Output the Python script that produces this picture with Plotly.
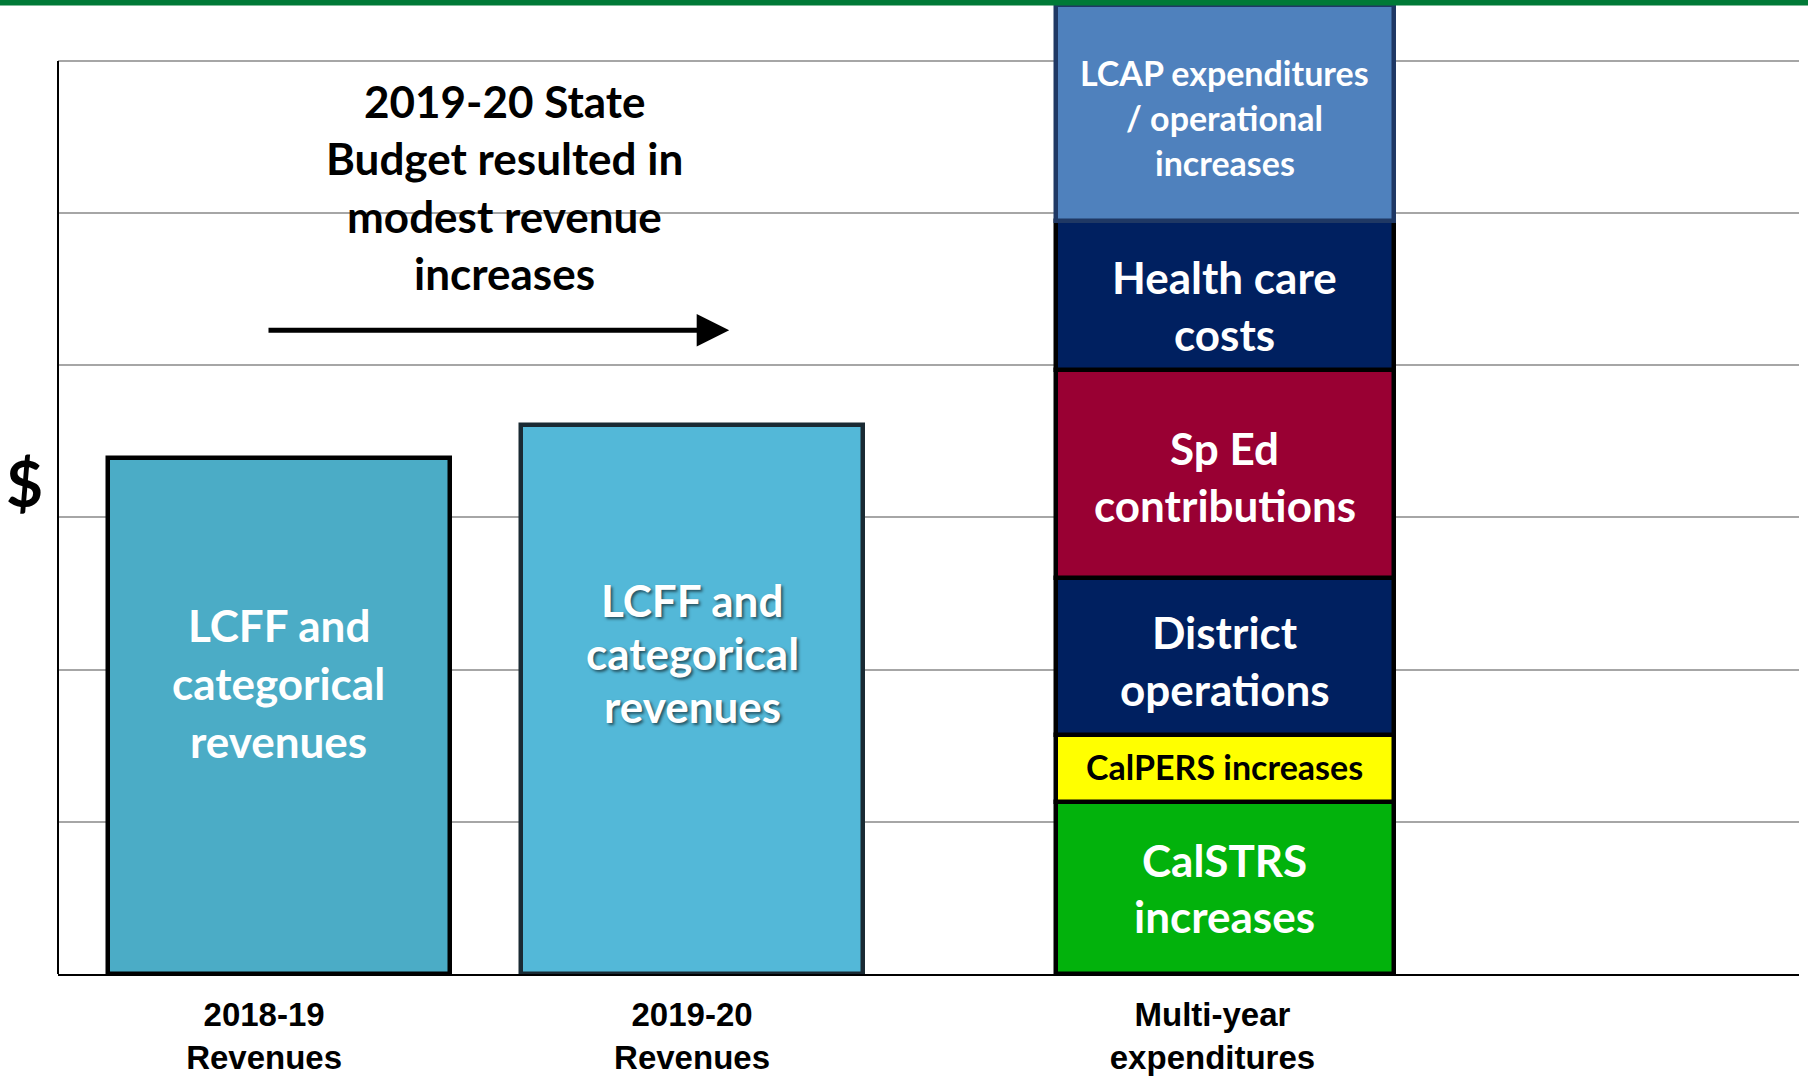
import plotly.graph_objects as go
import numpy as np

# ---------------- data ----------------
categories = ["2018-19<br>Revenues", "2019-20<br>Revenues", "Multi-year<br>expenditures"]
revenue_values = [3.39, 3.61]
revenue_label_lines = ["LCFF and", "categorical", "revenues"]
expense_labels = [
    "CalSTRS<br>increases",
    "CalPERS increases",
    "District<br>operations",
    "Sp Ed<br>contributions",
    "Health care<br>costs",
    "LCAP expenditures<br>/ operational<br>increases",
]
expense_values = [1.13, 0.44, 1.03, 1.37, 0.98, 1.42]
title_lines = ["2019-20 State", "Budget resulted in", "modest revenue", "increases"]

# ---------------- styles / layout ----------------
W, H = 1808, 1077
x_pos = [1.0, 2.0, 3.29]
label_pos = [0.964, 2.0, 3.26]
bar_w = 0.83
stack_w = 0.82
rev_colors = ["#4BACC6", "#53B8D8"]
rev_lines = ["#000000", "#1A2A33"]
exp_colors = ["#02B20C", "#FFFF00", "#002060", "#990033", "#002060", "#4F81BD"]
exp_lines = ["#000000", "#000000", "#000000", "#000000", "#000000", "#1F3864"]
exp_text_colors = ["white", "black", "white", "white", "white", "white"]
exp_font_sizes = [44, 34, 44, 44, 44, 34]
exp_line_gap = [56, 0, 57, 57, 57, 45]
exp_text_shift = [0, 2, -4, -2, -10, -5]
FONT = "Lato, 'Open Sans', sans-serif"

fig = go.Figure()

# revenue bars
for i, v in enumerate(revenue_values):
    fig.add_trace(go.Bar(
        x=[x_pos[i]], y=[v], width=bar_w,
        marker=dict(color=rev_colors[i], line=dict(color=rev_lines[i], width=4.5)),
        hoverinfo="skip", showlegend=False,
    ))

# stacked expenditures
bases = np.concatenate([[0], np.cumsum(expense_values)[:-1]])
for i, v in enumerate(expense_values):
    fig.add_trace(go.Bar(
        x=[x_pos[2]], y=[v], base=[bases[i]], width=stack_w,
        marker=dict(color=exp_colors[i], line=dict(color=exp_lines[i], width=4.5)),
        hoverinfo="skip", showlegend=False,
    ))

annotations = []


def multiline(lines, x, y, gap, size, color, shadow=None, yshift0=0):
    n = len(lines)
    for k, ln in enumerate(lines):
        f = dict(family=FONT, size=size, color=color, weight="bold")
        if shadow:
            f["shadow"] = shadow
        annotations.append(dict(
            x=x, y=y, xref="x", yref="y", text=ln, showarrow=False,
            font=f, xanchor="center", yanchor="middle",
            yshift=yshift0 + ((n - 1) / 2 - k) * gap,
        ))


# revenue bar labels
rev_label_y = [1.91, 2.11]
rev_label_gap = [58, 53]
multiline(revenue_label_lines, x_pos[0], rev_label_y[0], rev_label_gap[0], 44, "white")
multiline(revenue_label_lines, x_pos[1], rev_label_y[1], rev_label_gap[1], 44, "white",
          shadow="2px 2px 3px rgba(0,0,0,0.55)")

# stack labels
for i, v in enumerate(expense_values):
    lines = expense_labels[i].split("<br>")
    multiline(lines, x_pos[2], bases[i] + v / 2, exp_line_gap[i], exp_font_sizes[i],
              exp_text_colors[i], yshift0=exp_text_shift[i])

# title text
multiline(title_lines, 1.545, 5.17, 57.5, 44, "black")

# arrow
annotations.append(dict(
    x=2.09, y=4.23, ax=0.971, ay=4.23, xref="x", yref="y", axref="x", ayref="y",
    text="", showarrow=True, arrowhead=2, arrowsize=1.3, arrowwidth=5, arrowcolor="black",
))

# $ sign
annotations.append(dict(
    x=-0.019, y=3.23, xref="paper", yref="y", text="$", showarrow=False,
    font=dict(family=FONT, size=64, color="black", weight="bold"),
    xanchor="center", yanchor="middle",
))

fig.update_layout(
    width=W, height=H,
    margin=dict(l=58, r=9, t=0, b=103),
    paper_bgcolor="white", plot_bgcolor="white",
    barmode="overlay", bargap=0,
    annotations=annotations,
    xaxis=dict(
        range=[0.465, 4.68], tickvals=label_pos, ticktext=categories,
        tickfont=dict(family="'Liberation Sans Narrow', 'Arial Narrow', 'Liberation Sans', sans-serif",
                      size=33, color="black", weight="bold"),
        showgrid=False, zeroline=False, showline=True, linecolor="black", linewidth=2,
        ticks="", ticklabelstandoff=10, fixedrange=True,
    ),
    yaxis=dict(
        range=[0, 6.40], dtick=1, tick0=0, showticklabels=False,
        showgrid=True, gridcolor="#A6A6A6", gridwidth=2, zeroline=False,
        showline=False, ticks="", fixedrange=True,
    ),
    shapes=[
        dict(type="line", xref="paper", yref="y", x0=0, x1=0, y0=0, y1=6,
             line=dict(color="black", width=2), layer="above"),
        dict(type="rect", xref="paper", yref="paper", x0=-0.05, x1=1.05,
             y0=1 - 5.5 / 974, y1=1.01, fillcolor="#007A37", line=dict(width=0),
             layer="above"),
    ],
)

fig.write_html(
    "out.html",
    config={"displayModeBar": False},
    post_script="document.body.style.margin='0';document.body.style.overflow='hidden';",
)
